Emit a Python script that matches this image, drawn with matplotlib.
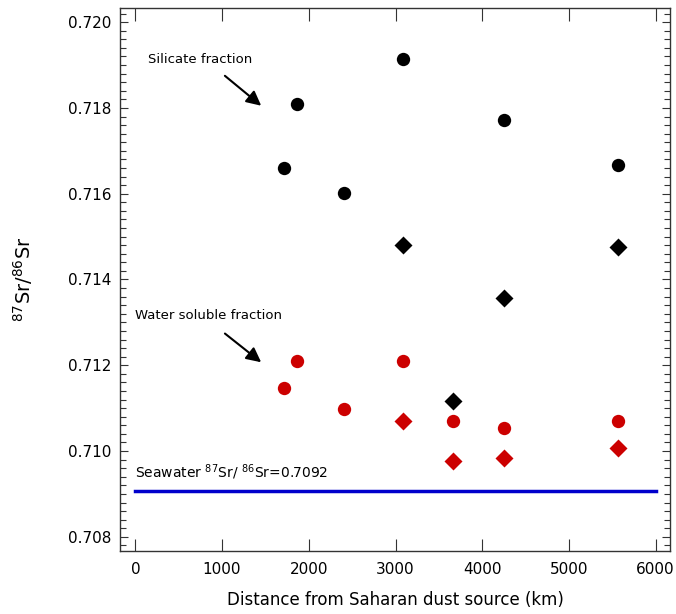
#Sr isotope ratios of Saharan dust vs distance from source

#Importing the libraries
import numpy as np
import matplotlib
matplotlib.use('Agg')
import matplotlib.pyplot as plt
from matplotlib.ticker import MultipleLocator

#Silicate fraction
sil_circ_x = [1715, 1861, 2410, 3083, 4248, 5569]
sil_circ_y = [0.71659, 0.71810, 0.71602, 0.71914, 0.71773, 0.71666]
sil_diam_x = [3083, 3667, 4248, 5569]
sil_diam_y = [0.71480, 0.71117, 0.71358, 0.71475]

#Water soluble fraction
ws_circ_x = [1715, 1861, 2410, 3083, 3667, 4248, 5569]
ws_circ_y = [0.71148, 0.71209, 0.71098, 0.71210, 0.71070, 0.71054, 0.71069]
ws_diam_x = [3083, 3667, 4248, 5569]
ws_diam_y = [0.71071, 0.70976, 0.70984, 0.71006]

#Seawater value
sw_x = [0, 6000]
sw_y = 0.70907

plt.rcParams['font.family'] = 'DejaVu Sans'
fig = plt.figure(figsize=(6.76, 6.14), dpi=100)
ax = fig.add_axes([0.1775, 0.1026, 0.8136, 0.8844])

red = '#cc0000'
ax.plot(sw_x, [sw_y, sw_y], color='#0000cc', lw=2.5, zorder=2)
ax.plot(sil_circ_x, sil_circ_y, 'o', ms=9.6, color='black', mec='none', zorder=3)
ax.plot(sil_diam_x, sil_diam_y, 'D', ms=9.2, color='black', mec='none', zorder=3)
ax.plot(ws_circ_x, ws_circ_y, 'o', ms=9.6, color=red, mec='none', zorder=3)
ax.plot(ws_diam_x, ws_diam_y, 'D', ms=9.2, color=red, mec='none', zorder=3)

ax.set_xlim(-177, 6165)
ax.set_ylim(0.70767, 0.72033)
ax.xaxis.set_major_locator(MultipleLocator(1000))
ax.yaxis.set_major_locator(MultipleLocator(0.002))
ax.yaxis.set_minor_locator(MultipleLocator(0.0002))
ax.yaxis.set_major_formatter(matplotlib.ticker.FormatStrFormatter('%.3f'))
ax.tick_params(axis='both', which='both', direction='in', top=True, right=True,
               labelsize=11, width=0.8, color='#333333')
ax.tick_params(axis='x', which='major', length=9, pad=8)
ax.tick_params(axis='y', which='major', length=6, pad=6)
ax.tick_params(axis='y', which='minor', length=4.3)
for s in ax.spines.values():
    s.set_linewidth(1.0)
    s.set_color('#333333')

ax.set_xlabel('Distance from Saharan dust source (km)', fontsize=12, labelpad=10)
ax.set_ylabel('$^{87}$Sr/$^{86}$Sr', fontsize=14, labelpad=24)

#annotations
ax.annotate('', xy=(1476, 0.71801), xytext=(1008, 0.71879),
            arrowprops=dict(arrowstyle='-|>', color='black', lw=1.5, mutation_scale=22))
ax.text(150, 0.71912, 'Silicate fraction', fontsize=9.5, va='center', ha='left')
ax.annotate('', xy=(1476, 0.71203), xytext=(1008, 0.71278),
            arrowprops=dict(arrowstyle='-|>', color='black', lw=1.5, mutation_scale=22))
ax.text(0, 0.71316, 'Water soluble fraction', fontsize=9.5, va='center', ha='left')
ax.text(0, 0.70927, 'Seawater $^{87}$Sr/ $^{86}$Sr=0.7092', fontsize=10, va='bottom', ha='left')

plt.savefig('out.png', dpi=100)
